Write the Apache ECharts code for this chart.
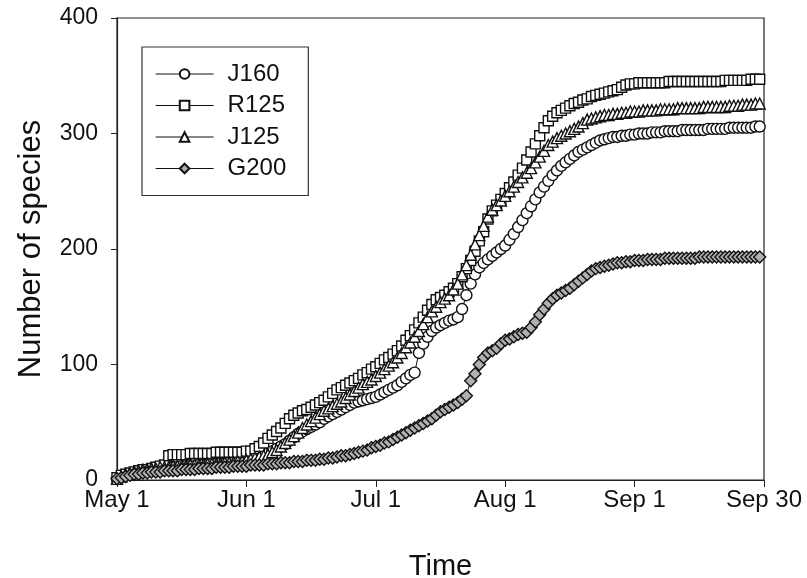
<!DOCTYPE html>
<html>
<head>
<meta charset="utf-8">
<script src="https://cdn.jsdelivr.net/npm/echarts@6/dist/echarts.min.js"></script>
<style>
html,body{margin:0;padding:0;background:#fff;}
#chart{width:807px;height:578px;}
</style>
</head>
<body>
<div id="chart"></div>
<script>
// x values: days since May 1 (one point per day)
const tickLabels = ['May 1', 'Jun 1', 'Jul 1', 'Aug 1', 'Sep 1', 'Sep 30'];
const seriesNames = ['J160', 'R125', 'J125', 'G200'];

const J160 = [
  1,3,4,5,6,7,8,8,9,9,
  10,10,11,11,11,12,12,12,12,13,
  13,13,14,14,14,14,15,15,15,16,
  16,17,18,19,21,23,25,27,29,31,
  34,37,40,42,44,46,48,50,53,55,
  57,59,61,63,65,67,68,69,70,71,
  72,74,76,78,80,82,85,88,91,93,
  110,118,124,129,132,134,136,138,139,141,
  148,160,170,178,184,188,191,194,197,200,
  203,208,213,219,225,231,237,243,249,254,
  259,264,268,272,275,278,281,284,286,288,
  290,292,294,295,296,297,297,298,298,299,
  299,300,300,300,301,301,301,302,302,302,
  302,303,303,303,303,303,303,304,304,304,
  304,304,305,305,305,305,305,305,306,306
];

const R125 = [
  2,4,5,6,7,8,9,9,10,11,12,13,
  21,22,22,22,22,23,23,23,23,23,23,24,24,24,24,24,24,24,25,25,
  27,29,32,36,39,42,45,49,53,56,
  58,60,61,63,65,67,69,72,75,78,
  80,82,84,86,88,91,93,96,98,101,
  104,106,109,112,116,121,125,130,136,141,
  147,152,156,158,160,163,166,170,176,183,
  190,198,207,215,226,233,238,243,248,253,
  258,264,270,277,284,291,298,305,311,315,
  318,320,322,324,326,327,329,330,332,333,
  334,335,336,337,338,340,342,343,343,344,
  344,344,344,344,344,344,345,345,345,345,
  345,345,345,345,345,345,345,345,345,346,
  346,346,346,346,346,347,347,347
];

const J125 = [
  1,3,5,6,7,8,9,9,10,10,
  11,11,11,12,12,12,12,13,13,13,
  13,14,14,14,14,15,15,15,16,16,
  17,18,19,20,21,22,24,26,29,32,
  35,38,41,45,48,51,54,57,60,62,
  64,66,68,71,74,77,80,83,85,87,
  90,93,96,99,102,106,110,115,119,124,
  129,135,141,146,150,154,157,160,165,170,
  178,186,195,204,212,220,228,234,238,242,
  246,250,254,258,262,266,270,275,280,285,
  290,293,296,298,300,302,304,306,309,312,
  313,314,315,316,316,317,317,318,318,319,
  319,319,320,320,320,320,321,321,321,321,
  322,322,322,322,322,322,323,323,323,323,
  323,323,324,324,324,325,325,325,326,326
];

const G200 = [
  1,2,3,4,5,5,6,6,7,7,
  7,8,8,8,8,9,9,9,9,10,
  10,10,10,11,11,11,11,12,12,12,
  12,13,13,13,13,14,14,14,15,15,
  15,16,16,16,17,17,17,18,18,19,
  19,20,21,21,22,23,24,25,26,28,
  29,30,32,33,35,37,39,41,43,45,
  47,49,51,53,56,59,61,63,65,67,
  70,73,86,92,100,106,110,112,114,118,
  121,122,124,126,127,128,132,137,143,148,
  153,157,160,162,164,166,169,172,175,178,
  181,183,184,185,186,187,188,188,189,189,
  190,190,190,191,191,191,191,192,192,192,
  192,192,192,192,192,193,193,193,193,193,
  193,193,193,193,193,193,193,193,193,193
];

const seriesData = [J160, R125, J125, G200];
const symbols = ['circle', 'rect', 'triangle', 'diamond'];
const fills = ['#ffffff', '#ffffff', '#ffffff', '#b0b0b0'];
const sizes = [11, 10, 11, 12];

const chart = echarts.init(document.getElementById('chart'), null, {renderer: 'canvas'});
const FONT = 'Liberation Sans, Arial, sans-serif';

const series = seriesNames.map((name, i) => ({
  name: name,
  type: 'line',
  data: seriesData[i].map((v, d) => [d, v]),
  symbol: symbols[i],
  symbolSize: sizes[i],
  showSymbol: true,
  showAllSymbol: true,
  lineStyle: {color: '#111', width: 1},
  itemStyle: {color: fills[i], borderColor: '#111', borderWidth: 1.4},
  emphasis: {disabled: true},
  z: 2 + i
}));

chart.setOption({
  animation: false,
  backgroundColor: '#fff',
  grid: {
    left: 117, right: 43, top: 18, bottom: 98,
    containLabel: false,
    outerBoundsMode: 'none',
    show: true, borderColor: '#222', borderWidth: 1.2, backgroundColor: 'transparent'
  },
  legend: {
    orient: 'vertical',
    left: 142, top: 47,
    padding: [15, 22, 15, 13],
    itemGap: 7.5,
    itemWidth: 58,
    itemHeight: 12,
    borderColor: '#333',
    borderWidth: 1.2,
    backgroundColor: '#fff',
    data: seriesNames,
    textStyle: {fontFamily: FONT, fontSize: 24, color: '#111', padding: [0, 0, 0, 9]},
    lineStyle: {color: '#111', width: 1.2}
  },
  xAxis: {
    type: 'value',
    min: 0, max: 150, interval: 30,
    name: 'Time',
    nameLocation: 'middle',
    nameGap: 72,
    nameTextStyle: {fontFamily: FONT, fontSize: 29, color: '#111'},
    axisLine: {show: true, lineStyle: {color: '#222', width: 1.2}},
    axisTick: {show: true, inside: false, length: 7, lineStyle: {color: '#222'}},
    axisLabel: {
      fontFamily: FONT, fontSize: 24, color: '#111', margin: 8,
      formatter: v => tickLabels[Math.round(v / 30)]
    },
    splitLine: {show: false}
  },
  yAxis: {
    type: 'value',
    min: 0, max: 400, interval: 100,
    name: 'Number of species',
    nameLocation: 'middle',
    nameGap: 70,
    nameTextStyle: {fontFamily: FONT, fontSize: 31, color: '#111'},
    axisLine: {show: true, lineStyle: {color: '#222', width: 1.2}},
    axisTick: {show: true, inside: false, length: 6, lineStyle: {color: '#222'}},
    axisLabel: {fontFamily: FONT, fontSize: 23, color: '#111', margin: 19},
    splitLine: {show: false}
  },
  series: series
});
</script>
</body>
</html>
